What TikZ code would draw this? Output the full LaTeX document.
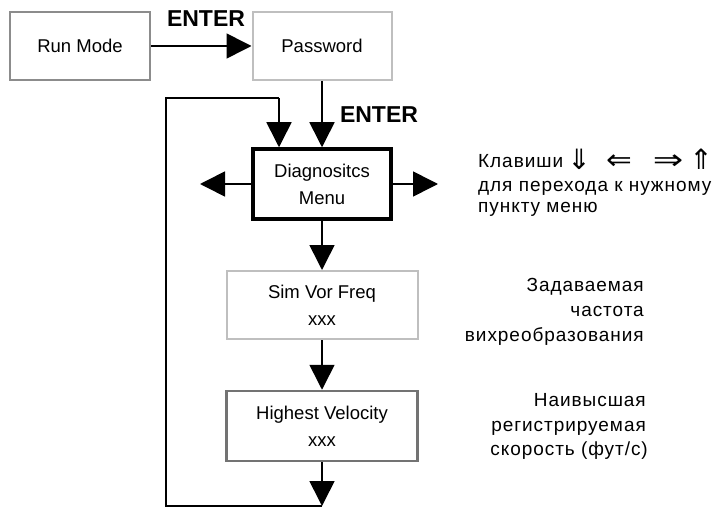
\documentclass[tikz,border=0pt]{standalone}
\usepackage{fontspec}
\setmainfont{Liberation Sans}
\newfontfamily\arrfont{DejaVu Sans}
\newfontfamily\notefont[LetterSpace=5]{Liberation Sans}
\usetikzlibrary{arrows.meta}
\begin{document}
\begin{tikzpicture}[x=1pt,y=-1pt,
  box/.style={draw, line width=2pt, fill=white, align=center, font=\fontsize{18.5}{27}\selectfont, inner sep=0pt},
  arr/.style={line width=1.6pt, -{Triangle[length=25pt,width=25pt]}},
  conn/.style={line width=1.6pt},
  enter/.style={font=\fontsize{23}{24}\selectfont\bfseries, inner sep=0pt},
  note/.style={font=\notefont\fontsize{19}{22}\selectfont, inner sep=0pt},
  keyarr/.style={font=\arrfont\fontsize{28}{28}\selectfont, inner sep=0pt}
]
\useasboundingbox (0,0) rectangle (725,513);
\node[box, draw=black!45, minimum width=140pt, minimum height=68pt] (run) at (80,46) {Run Mode};
\node[box, draw=black!25, minimum width=139pt, minimum height=68pt] (pw) at (322,46) {Password};
\node[box, draw=black, line width=3.5pt, minimum width=138pt, minimum height=70pt] (diag) at (322,184) {Diagnositcs\\Menu};
\node[box, draw=black!25, minimum width=191pt, minimum height=68pt] (sim) at (322,305) {Sim Vor Freq\\xxx};
\node[box, draw=black!55, line width=2.5pt, minimum width=191pt, minimum height=70pt] (hv) at (322,426) {Highest Velocity\\xxx};

\node[enter] (e1) at (206,19) {ENTER};
\node[enter] (e2) at (379,115) {ENTER};

\coordinate (lefttip) at (200,184);
\coordinate (righttip) at (438,184);
\coordinate (bot) at (322,506);
\coordinate (lb) at (166,506);
\coordinate (lt) at (166,98);
\coordinate (loopin) at (279,98);

\draw[arr] (run) -- (pw);
\draw[arr] (pw.south) -- (diag.north);
\draw[arr] (diag.west) -- (lefttip);
\draw[arr] (diag.east) -- (righttip);
\draw[arr] (diag.south) -- (sim.north);
\draw[arr] (sim.south) -- (hv.north);
\draw[arr] (hv.south) -- (bot);
\draw[conn] (bot) -- (lb) -- (lt) -- (loopin);
\draw[arr] (loopin) -- (loopin |- diag.north);

\node[note, anchor=base west] (k1) at (478,168) {Клавиши};
\node[keyarr, anchor=base] (a1) at (579,170) {⇓};
\node[keyarr, anchor=base, xscale=1.1] (a2) at (619,170) {⇐};
\node[keyarr, anchor=base, xscale=1.3] (a3) at (668,170) {⇒};
\node[keyarr, anchor=base] (a4) at (701,170) {⇑};
\node[note, anchor=base west] (k2) at (478,192) {для перехода к нужному};
\node[note, anchor=base west] (k3) at (478,212) {пункту меню};

\node[note, anchor=base east] (z1) at (644,291) {Задаваемая};
\node[note, anchor=base east] (z2) at (644,316) {частота};
\node[note, anchor=base east] (z3) at (644,341) {вихреобразования};

\node[note, anchor=base east] (n1) at (646,406) {Наивысшая};
\node[note, anchor=base east] (n2) at (646,431) {регистрируемая};
\node[note, anchor=base east] (n3) at (648,455) {скорость (фут/с)};
\end{tikzpicture}
\end{document}
